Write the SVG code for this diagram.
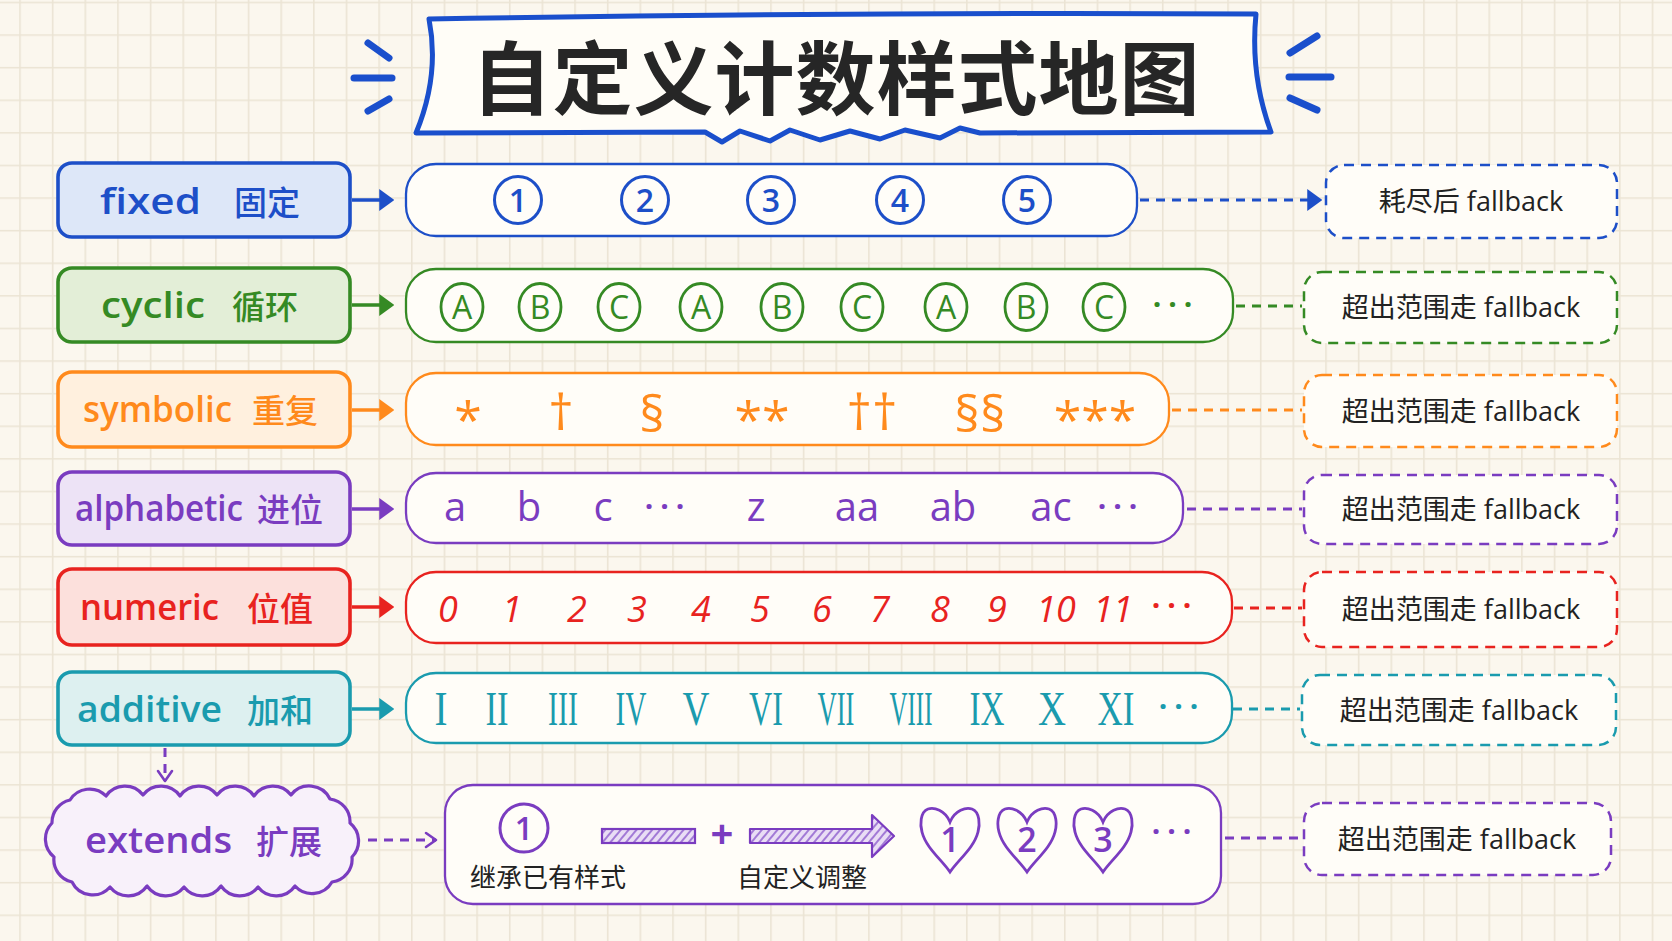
<svg xmlns="http://www.w3.org/2000/svg" width="1672" height="941" viewBox="0 0 1672 941">
<defs>
<pattern id="grid" x="19.2" y="1.7" width="32.65" height="32.6" patternUnits="userSpaceOnUse">
<path d="M0.8 0V32.6M0 0.8H32.65" stroke="#ebe4d4" stroke-width="1.6" fill="none"/>
</pattern>
<pattern id="hatch" width="6" height="6" patternUnits="userSpaceOnUse" patternTransform="rotate(40)">
<rect width="6" height="6" fill="#e9ddf5"/>
<line x1="1" y1="0" x2="1" y2="6" stroke="#a27ad6" stroke-width="2"/>
</pattern>
<marker id="ah-blue" viewBox="0 0 10 10" refX="4.5" refY="5" markerWidth="15" markerHeight="22" markerUnits="userSpaceOnUse" orient="auto" preserveAspectRatio="none"><path d="M0 0L10 5L0 10z" fill="#1d4fc8"/></marker>
<marker id="ah-green" viewBox="0 0 10 10" refX="4.5" refY="5" markerWidth="15" markerHeight="22" markerUnits="userSpaceOnUse" orient="auto" preserveAspectRatio="none"><path d="M0 0L10 5L0 10z" fill="#358a24"/></marker>
<marker id="ah-orange" viewBox="0 0 10 10" refX="4.5" refY="5" markerWidth="15" markerHeight="22" markerUnits="userSpaceOnUse" orient="auto" preserveAspectRatio="none"><path d="M0 0L10 5L0 10z" fill="#ff8a1c"/></marker>
<marker id="ah-purple" viewBox="0 0 10 10" refX="4.5" refY="5" markerWidth="15" markerHeight="22" markerUnits="userSpaceOnUse" orient="auto" preserveAspectRatio="none"><path d="M0 0L10 5L0 10z" fill="#7a3cc0"/></marker>
<marker id="ah-red" viewBox="0 0 10 10" refX="4.5" refY="5" markerWidth="15" markerHeight="22" markerUnits="userSpaceOnUse" orient="auto" preserveAspectRatio="none"><path d="M0 0L10 5L0 10z" fill="#e8231f"/></marker>
<marker id="ah-teal" viewBox="0 0 10 10" refX="4.5" refY="5" markerWidth="15" markerHeight="22" markerUnits="userSpaceOnUse" orient="auto" preserveAspectRatio="none"><path d="M0 0L10 5L0 10z" fill="#1a9bae"/></marker>
<marker id="chev" viewBox="0 0 12 16" refX="11" refY="8" markerWidth="12" markerHeight="16" markerUnits="userSpaceOnUse" orient="auto" overflow="visible"><path d="M1 1L11 8L1 15" fill="none" stroke="#7a3cc0" stroke-width="2.6" stroke-linecap="round" stroke-linejoin="round"/></marker>
<path id="heart" d="M0 -18C-5 -30 -16 -33 -22 -31C-30 -28 -30 -15 -28 -8C-24 8 -8 20 0 32C8 20 24 8 28 -8C30 -15 30 -28 22 -31C16 -33 5 -30 0 -18Z"/>
</defs>
<style>
.lbl{stroke-width:3.6;}
.seq{fill:#fffdf8;stroke-width:2.3;}
.fb{fill:#fffdf8;stroke-width:2.5;stroke-dasharray:10 7;}
.lt{font-family:"Open Sans",sans-serif;font-size:36px;font-weight:600;}
.zh{font-family:"Noto Sans CJK SC",sans-serif;font-size:33px;font-weight:500;}
.fbt{font-family:"Open Sans","Noto Sans CJK SC",sans-serif;font-size:27px;fill:#222;text-anchor:middle;}
.it{font-family:"Open Sans",sans-serif;text-anchor:middle;}
.rom{font-family:"Liberation Serif",serif;font-size:48px;fill:#1a9bae;text-anchor:middle;}
.cap{font-family:"Noto Sans CJK SC",sans-serif;font-size:26px;fill:#222;text-anchor:middle;}
.dots{font-family:"Open Sans",sans-serif;font-size:30px;font-weight:700;letter-spacing:7px;text-anchor:middle;}
.conn{fill:none;stroke-width:3;stroke-dasharray:9 7;}
.la{fill:none;stroke-width:3.6;}
.deco{stroke:#1a4fcc;stroke-width:7;stroke-linecap:round;}
</style>
<rect width="1672" height="941" fill="#fbf7ee"/>
<rect width="1672" height="941" fill="url(#grid)"/>

<g id="title">
<path d="M429 19Q840 12 1256 14Q1250 75 1271 132L980 133L960 128L940 138L905 130L880 139L850 131L820 140L790 130L770 141L740 131L722 142L705 132L416 133Q440 75 429 19Z" fill="#fffdf7" stroke="#1a4fcc" stroke-width="5" stroke-linejoin="round"/>
<text x="836" y="108" font-family="'Noto Sans CJK SC',sans-serif" font-size="80" font-weight="700" fill="#262626" text-anchor="middle" letter-spacing="1">自定义计数样式地图</text>
<line class="deco" x1="368" y1="43" x2="389" y2="58"/>
<line class="deco" x1="354" y1="78" x2="392" y2="78"/>
<line class="deco" x1="368" y1="111" x2="389" y2="99"/>
<line class="deco" x1="1290" y1="53" x2="1317" y2="36"/>
<line class="deco" x1="1289" y1="77" x2="1331" y2="77"/>
<line class="deco" x1="1290" y1="98" x2="1317" y2="110"/>
</g>

<g id="connectors">
<line class="la" x1="352" y1="200" x2="386" y2="200" stroke="#1d4fc8" marker-end="url(#ah-blue)"/>
<line class="la" x1="352" y1="305" x2="386" y2="305" stroke="#358a24" marker-end="url(#ah-green)"/>
<line class="la" x1="352" y1="410" x2="386" y2="410" stroke="#ff8a1c" marker-end="url(#ah-orange)"/>
<line class="la" x1="352" y1="509" x2="386" y2="509" stroke="#7a3cc0" marker-end="url(#ah-purple)"/>
<line class="la" x1="352" y1="607" x2="386" y2="607" stroke="#e8231f" marker-end="url(#ah-red)"/>
<line class="la" x1="352" y1="709" x2="386" y2="709" stroke="#1a9bae" marker-end="url(#ah-teal)"/>
<line class="conn" x1="1140" y1="200" x2="1314" y2="200" stroke="#1d4fc8" marker-end="url(#ah-blue)"/>
<line class="conn" x1="1236" y1="306" x2="1302" y2="306" stroke="#358a24"/>
<line class="conn" x1="1172" y1="410" x2="1302" y2="410" stroke="#ff8a1c"/>
<line class="conn" x1="1187" y1="509" x2="1302" y2="509" stroke="#7a3cc0"/>
<line class="conn" x1="1234" y1="608" x2="1302" y2="608" stroke="#e8231f"/>
<line class="conn" x1="1233" y1="709" x2="1300" y2="709" stroke="#1a9bae"/>
<line class="conn" x1="1225" y1="838" x2="1302" y2="838" stroke="#7a3cc0"/>
<line class="conn" x1="368" y1="840" x2="436" y2="840" stroke="#7a3cc0" stroke-width="2.6" marker-end="url(#chev)"/>
<line class="conn" x1="165" y1="748" x2="165" y2="781" stroke="#7a3cc0" stroke-width="2.6" stroke-dasharray="16 6" marker-end="url(#chev)"/>
</g>

<g id="row-fixed">
<rect class="lbl" x="58" y="163" width="292" height="74" rx="14" fill="#dde7f8" stroke="#1d4fc8"/>
<text class="lt" x="100" y="214" fill="#1d4fc8" textLength="101" lengthAdjust="spacingAndGlyphs">fixed</text>
<text class="zh" x="234" y="215" fill="#1d4fc8">固定</text>
<rect class="seq" x="406" y="164" width="731" height="72" rx="30" stroke="#1d4fc8"/>
<g fill="none" stroke="#1d4fc8" stroke-width="3">
<circle cx="518" cy="200" r="23.5"/><circle cx="645" cy="200" r="23.5"/><circle cx="771" cy="200" r="23.5"/><circle cx="900" cy="200" r="23.5"/><circle cx="1027" cy="200" r="23.5"/>
</g>
<g class="it" font-size="32" font-weight="600" fill="#1d4fc8">
<text x="518" y="212">1</text><text x="645" y="212">2</text><text x="771" y="212">3</text><text x="900" y="212">4</text><text x="1027" y="212">5</text>
</g>
<rect class="fb" x="1326" y="165" width="291" height="73" rx="18" stroke="#1d4fc8"/>
<text class="fbt" x="1471" y="211">耗尽后 fallback</text>
</g>

<g id="row-cyclic">
<rect class="lbl" x="58" y="268" width="292" height="74" rx="14" fill="#e3eed7" stroke="#358a24"/>
<text class="lt" x="101" y="318" fill="#358a24" textLength="104" lengthAdjust="spacingAndGlyphs">cyclic</text>
<text class="zh" x="232" y="319" fill="#358a24">循环</text>
<rect class="seq" x="406" y="269" width="827" height="73" rx="30" stroke="#358a24"/>
<g fill="none" stroke="#358a24" stroke-width="2.8">
<ellipse cx="462" cy="307" rx="21" ry="23.5"/><ellipse cx="540" cy="307" rx="21" ry="23.5"/><ellipse cx="619" cy="307" rx="21" ry="23.5"/><ellipse cx="701" cy="307" rx="21" ry="23.5"/><ellipse cx="782" cy="307" rx="21" ry="23.5"/><ellipse cx="862" cy="307" rx="21" ry="23.5"/><ellipse cx="946" cy="307" rx="21" ry="23.5"/><ellipse cx="1026" cy="307" rx="21" ry="23.5"/><ellipse cx="1104" cy="307" rx="21" ry="23.5"/>
</g>
<g class="it" font-size="32" font-weight="500" fill="#358a24">
<text x="462" y="319">A</text><text x="540" y="319">B</text><text x="619" y="319">C</text><text x="701" y="319">A</text><text x="782" y="319">B</text><text x="862" y="319">C</text><text x="946" y="319">A</text><text x="1026" y="319">B</text><text x="1104" y="319">C</text>
</g>
<text class="dots" x="1176" y="315" fill="#358a24">···</text>
<rect class="fb" x="1304" y="272" width="313" height="71" rx="18" stroke="#358a24"/>
<text class="fbt" x="1461" y="317">超出范围走 fallback</text>
</g>

<g id="row-symbolic">
<rect class="lbl" x="58" y="372" width="292" height="75" rx="14" fill="#fff0de" stroke="#ff8a1c"/>
<text class="lt" x="83" y="422" fill="#ff8a1c" textLength="149" lengthAdjust="spacingAndGlyphs">symbolic</text>
<text class="zh" x="252" y="423" fill="#ff8a1c">重复</text>
<rect class="seq" x="406" y="373" width="763" height="72" rx="30" stroke="#ff8a1c"/>
<g class="it" font-size="50" font-weight="500" fill="#ff8a1c">
<text x="468" y="438">*</text><text x="561" y="430">†</text><text x="652" y="432">§</text><text x="762" y="438">**</text><text x="872" y="430">††</text><text x="980" y="432">§§</text><text x="1095" y="438">***</text>
</g>
<rect class="fb" x="1304" y="375" width="313" height="72" rx="18" stroke="#ff8a1c"/>
<text class="fbt" x="1461" y="421">超出范围走 fallback</text>
</g>

<g id="row-alphabetic">
<rect class="lbl" x="58" y="472" width="292" height="73" rx="14" fill="#ede3f6" stroke="#7a3cc0"/>
<text class="lt" x="75" y="521" fill="#7a3cc0" textLength="168" lengthAdjust="spacingAndGlyphs">alphabetic</text>
<text class="zh" x="257" y="522" fill="#7a3cc0">进位</text>
<rect class="seq" x="406" y="473" width="777" height="70" rx="30" stroke="#7a3cc0"/>
<g class="it" font-size="40" fill="#7a3cc0">
<text x="455" y="521">a</text><text x="529" y="521">b</text><text x="603" y="521">c</text><text x="756" y="521">z</text><text x="857" y="521">aa</text><text x="953" y="521">ab</text><text x="1051" y="521">ac</text>
</g>
<text class="dots" x="668" y="517" fill="#7a3cc0">···</text>
<text class="dots" x="1121" y="517" fill="#7a3cc0">···</text>
<rect class="fb" x="1304" y="475" width="313" height="69" rx="18" stroke="#7a3cc0"/>
<text class="fbt" x="1461" y="519">超出范围走 fallback</text>
</g>

<g id="row-numeric">
<rect class="lbl" x="58" y="569" width="292" height="76" rx="14" fill="#fce0dc" stroke="#e8231f"/>
<text class="lt" x="80" y="620" fill="#e8231f" textLength="139" lengthAdjust="spacingAndGlyphs">numeric</text>
<text class="zh" x="247" y="621" fill="#e8231f">位值</text>
<rect class="seq" x="406" y="572" width="826" height="71" rx="30" stroke="#e8231f"/>
<g class="it" font-size="36" font-style="italic" fill="#e8231f">
<text x="448" y="622">0</text><text x="512" y="622">1</text><text x="577" y="622">2</text><text x="637" y="622">3</text><text x="701" y="622">4</text><text x="760" y="622">5</text><text x="822" y="622">6</text><text x="880" y="622">7</text><text x="940" y="622">8</text><text x="997" y="622">9</text><text x="1056" y="622">10</text><text x="1113" y="622">11</text>
</g>
<text class="dots" x="1175" y="616" fill="#e8231f">···</text>
<rect class="fb" x="1304" y="572" width="313" height="75" rx="18" stroke="#e8231f"/>
<text class="fbt" x="1461" y="619">超出范围走 fallback</text>
</g>

<g id="row-additive">
<rect class="lbl" x="58" y="672" width="292" height="73" rx="14" fill="#ddf0f0" stroke="#1a9bae"/>
<text class="lt" x="77" y="722" fill="#1a9bae" textLength="145" lengthAdjust="spacingAndGlyphs">additive</text>
<text class="zh" x="247" y="723" fill="#1a9bae">加和</text>
<rect class="seq" x="406" y="673" width="826" height="70" rx="30" stroke="#1a9bae"/>
<text class="rom" x="441" y="725" textLength="13" lengthAdjust="spacingAndGlyphs">I</text>
<text class="rom" x="497" y="725" textLength="23" lengthAdjust="spacingAndGlyphs">II</text>
<text class="rom" x="563" y="725" textLength="30" lengthAdjust="spacingAndGlyphs">III</text>
<text class="rom" x="631" y="725" textLength="31" lengthAdjust="spacingAndGlyphs">IV</text>
<text class="rom" x="696" y="725" textLength="27" lengthAdjust="spacingAndGlyphs">V</text>
<text class="rom" x="766" y="725" textLength="34" lengthAdjust="spacingAndGlyphs">VI</text>
<text class="rom" x="836" y="725" textLength="37" lengthAdjust="spacingAndGlyphs">VII</text>
<text class="rom" x="911" y="725" textLength="43" lengthAdjust="spacingAndGlyphs">VIII</text>
<text class="rom" x="987" y="725" textLength="35" lengthAdjust="spacingAndGlyphs">IX</text>
<text class="rom" x="1052" y="725" textLength="28" lengthAdjust="spacingAndGlyphs">X</text>
<text class="rom" x="1116" y="725" textLength="37" lengthAdjust="spacingAndGlyphs">XI</text>
<text class="dots" x="1182" y="717" fill="#1a9bae">···</text>
<rect class="fb" x="1302" y="675" width="314" height="70" rx="18" stroke="#1a9bae"/>
<text class="fbt" x="1459" y="720">超出范围走 fallback</text>
</g>

<g id="row-extends">
<path d="M70 800A23 23 0 0 1 106 796A23 23 0 0 1 143 795A23 23 0 0 1 180 796A23 23 0 0 1 217 795A23 23 0 0 1 254 796A23 23 0 0 1 291 795A23 23 0 0 1 330 799A23 23 0 0 1 350 823A23 23 0 0 1 352 857A23 23 0 0 1 332 882A23 23 0 0 1 295 886A23 23 0 0 1 258 887A23 23 0 0 1 221 886A23 23 0 0 1 184 887A23 23 0 0 1 147 886A23 23 0 0 1 110 887A23 23 0 0 1 72 882A23 23 0 0 1 54 857A23 23 0 0 1 52 823A23 23 0 0 1 70 800Z" fill="#f8f1fa" stroke="#7a3cc0" stroke-width="3.2" stroke-linejoin="round"/>
<text class="lt" x="85" y="853" fill="#7a3cc0" textLength="147" lengthAdjust="spacingAndGlyphs">extends</text>
<text class="zh" x="256" y="854" fill="#7a3cc0">扩展</text>
<rect class="seq" x="445" y="785" width="776" height="119" rx="28" stroke="#7a3cc0" stroke-width="2.6"/>
<circle cx="524" cy="828" r="24" fill="none" stroke="#7a3cc0" stroke-width="3"/>
<text class="it" x="524" y="840" font-size="32" font-weight="600" fill="#7a3cc0">1</text>
<text class="cap" x="548" y="887">继承已有样式</text>
<rect x="602" y="829" width="93" height="14" fill="url(#hatch)" stroke="#7a3cc0" stroke-width="2.2"/>
<text class="it" x="722" y="848" font-size="40" font-weight="700" fill="#7a3cc0">+</text>
<path d="M750 829H872V815L894 836L872 857V843H750Z" fill="url(#hatch)" stroke="#7a3cc0" stroke-width="2.2" stroke-linejoin="round"/>
<text class="cap" x="802" y="887">自定义调整</text>
<g fill="none" stroke="#7a3cc0" stroke-width="2.8">
<use href="#heart" x="950" y="840"/><use href="#heart" x="1027" y="840"/><use href="#heart" x="1103" y="840"/>
</g>
<g class="it" font-size="34" font-weight="600" fill="#7a3cc0">
<text x="950" y="852">1</text><text x="1027" y="852">2</text><text x="1103" y="852">3</text>
</g>
<text class="dots" x="1175" y="842" fill="#7a3cc0">···</text>
<rect class="fb" x="1304" y="803" width="307" height="72" rx="18" stroke="#7a3cc0"/>
<text class="fbt" x="1457" y="849">超出范围走 fallback</text>
</g>
</svg>
